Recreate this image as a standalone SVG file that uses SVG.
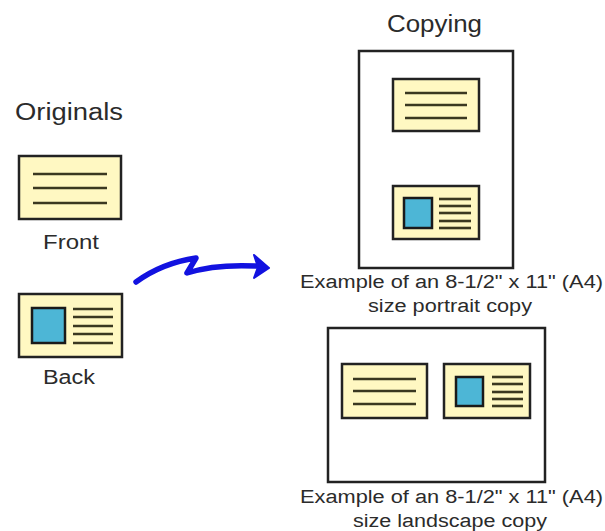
<svg xmlns="http://www.w3.org/2000/svg" width="605" height="531" viewBox="0 0 605 531">
<style>
.t{font-family:"Liberation Sans",Arial,sans-serif;fill:#2b2b2b}
.card{fill:#fff8c2;stroke:#222;stroke-width:2.5}
.page{fill:#fff;stroke:#222;stroke-width:2.5}
.ln{stroke:#3a3820;stroke-width:2.6;stroke-linecap:butt}
.pic{fill:#4db6d6;stroke:#1a1a1a;stroke-width:2.5}
</style>
<rect width="605" height="531" fill="#fff"/>
<g id="originals-label"><text class="t" x="15" y="120" font-size="23" textLength="108" lengthAdjust="spacingAndGlyphs">Originals</text></g>
<g id="front">
<rect class="card" x="19" y="156" width="102" height="63"/>
<line class="ln" x1="33" y1="174" x2="107" y2="174"/>
<line class="ln" x1="33" y1="188" x2="107" y2="188"/>
<line class="ln" x1="33" y1="203" x2="107" y2="203"/>
<text class="t" x="43" y="249" font-size="20" textLength="56" lengthAdjust="spacingAndGlyphs">Front</text>
</g>
<g id="back">
<rect class="card" x="19" y="294" width="103" height="63"/>
<rect class="pic" x="32" y="308" width="33" height="35"/>
<line class="ln" x1="73" y1="309" x2="113" y2="309"/>
<line class="ln" x1="73" y1="317" x2="113" y2="317"/>
<line class="ln" x1="73" y1="326" x2="113" y2="326"/>
<line class="ln" x1="73" y1="334" x2="113" y2="334"/>
<line class="ln" x1="73" y1="343" x2="113" y2="343"/>
<text class="t" x="43" y="384" font-size="20" textLength="52" lengthAdjust="spacingAndGlyphs">Back</text>
</g>
<g id="connectors">
<path d="M136,282 Q162,263 196,258 L187,273 Q215,264 256,266" fill="none" stroke="#1212e0" stroke-width="5.5" stroke-linecap="round" stroke-linejoin="round"/>
<polygon points="254,255 269,268 254,278 258,267" fill="#1212e0" stroke="#1212e0" stroke-width="2" stroke-linejoin="round"/>
</g>
<g id="copying-label"><text class="t" x="387" y="32" font-size="23" textLength="95" lengthAdjust="spacingAndGlyphs">Copying</text></g>
<g id="portrait">
<rect class="page" x="359" y="51" width="154" height="217"/>
<rect class="card" x="393" y="79" width="86" height="52"/>
<line class="ln" x1="405" y1="93" x2="467" y2="93"/>
<line class="ln" x1="405" y1="105" x2="467" y2="105"/>
<line class="ln" x1="405" y1="118" x2="467" y2="118"/>
<rect class="card" x="393" y="186" width="86" height="53"/>
<rect class="pic" x="404" y="198" width="28" height="30"/>
<line class="ln" x1="439" y1="199" x2="471" y2="199"/>
<line class="ln" x1="439" y1="206" x2="471" y2="206"/>
<line class="ln" x1="439" y1="213" x2="471" y2="213"/>
<line class="ln" x1="439" y1="221" x2="471" y2="221"/>
<line class="ln" x1="439" y1="228" x2="471" y2="228"/>
<text class="t" x="300" y="288" font-size="18" textLength="303" lengthAdjust="spacingAndGlyphs">Example of an 8-1/2" x 11" (A4)</text>
<text class="t" x="368" y="312" font-size="18" textLength="164" lengthAdjust="spacingAndGlyphs">size portrait copy</text>
</g>
<g id="landscape">
<rect class="page" x="328" y="328" width="217" height="154"/>
<rect class="card" x="342" y="364" width="85" height="54"/>
<line class="ln" x1="353" y1="379" x2="416" y2="379"/>
<line class="ln" x1="353" y1="391" x2="416" y2="391"/>
<line class="ln" x1="353" y1="404" x2="416" y2="404"/>
<rect class="card" x="444" y="364" width="86" height="54"/>
<rect class="pic" x="456" y="377" width="27" height="29"/>
<line class="ln" x1="492" y1="377" x2="523" y2="377"/>
<line class="ln" x1="492" y1="384" x2="523" y2="384"/>
<line class="ln" x1="492" y1="392" x2="523" y2="392"/>
<line class="ln" x1="492" y1="399" x2="523" y2="399"/>
<line class="ln" x1="492" y1="406" x2="523" y2="406"/>
<text class="t" x="300" y="503" font-size="18" textLength="303" lengthAdjust="spacingAndGlyphs">Example of an 8-1/2" x 11" (A4)</text>
<text class="t" x="353" y="527" font-size="18" textLength="194" lengthAdjust="spacingAndGlyphs">size landscape copy</text>
</g>
</svg>
